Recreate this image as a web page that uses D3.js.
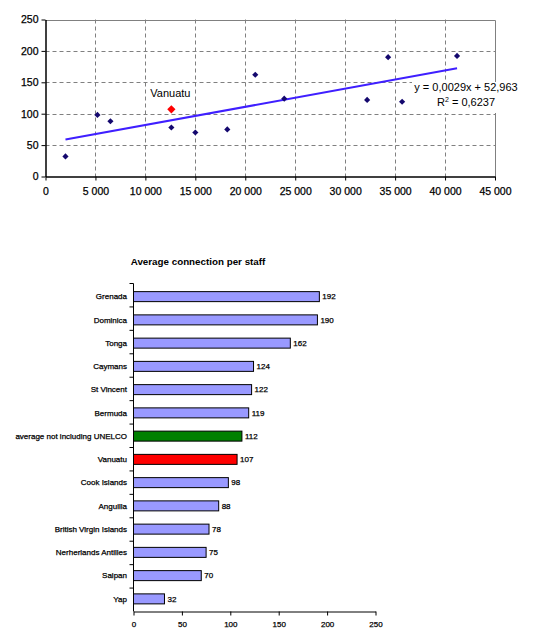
<!DOCTYPE html>
<html>
<head>
<meta charset="utf-8">
<script src="https://cdn.jsdelivr.net/npm/d3@7"></script>
<style>
  body { margin: 0; background: #fff; }
  svg { font-family: "Liberation Sans", Arial, sans-serif; }
  .heavy { stroke: #000; stroke-width: 0.25px; }
</style>
</head>
<body>
<div id="chart"></div>
<script>
// bar chart data (top to bottom)
var barNames = ["Grenada", "Dominica", "Tonga", "Caymans", "St Vincent", "Bermuda",
  "average not including UNELCO", "Vanuatu", "Cook Islands", "Anguilla",
  "British Virgin Islands", "Nerherlands Antilles", "Saipan", "Yap"];
var barValues = [192, 190, 162, 124, 122, 119, 112, 107, 98, 88, 78, 75, 70, 32];

// scatter data
var scatterNames = ["Yap", "Cook Islands", "Anguilla", "Vanuatu", "British Virgin Islands",
  "Saipan", "Nerherlands Antilles", "Tonga", "Caymans", "St Vincent", "Dominica",
  "Bermuda", "Grenada"];
var scatterX = [2000, 5200, 6500, 12600, 12600, 15000, 18200, 21000, 23900, 32200, 34300, 35700, 41200];
var scatterY = [32, 98, 88, 107, 78, 70, 75, 162, 124, 122, 190, 119, 192];

var xTicks = [0, 5000, 10000, 15000, 20000, 25000, 30000, 35000, 40000, 45000];
var yTicks = [0, 50, 100, 150, 200, 250];
var barTicks = [0, 50, 100, 150, 200, 250];

var trendSlope = 0.0029, trendIntercept = 52.963;

var width = 536, height = 636;
var svg = d3.select("#chart").append("svg")
    .attr("width", width)
    .attr("height", height);

// ---------- scatter ----------
var x = d3.scaleLinear().domain([0, 45000]).range([45.5, 495]);
var y = d3.scaleLinear().domain([0, 250]).range([176.5, 19.5]);
var fmt = function(d) { return d3.format(",")(d).replace(/,/g, " "); };

var grid = svg.append("g")
    .style("stroke", "#808080")
    .style("stroke-width", 1)
    .style("stroke-dasharray", "4,3");

grid.selectAll(".vg").data(xTicks.slice(1, -1)).enter().append("line")
    .attr("x1", d => Math.round(x(d)) + 0.5).attr("x2", d => Math.round(x(d)) + 0.5)
    .attr("y1", y(250)).attr("y2", y(0));
grid.selectAll(".hg").data(yTicks.slice(1, -1)).enter().append("line")
    .attr("x1", x(0)).attr("x2", x(45000))
    .attr("y1", d => Math.round(y(d)) + 0.5).attr("y2", d => Math.round(y(d)) + 0.5);

// top and right border
svg.append("path")
    .attr("d", "M" + x(0) + "," + (Math.round(y(250)) + 0.5) + "H" + (Math.round(x(45000)) + 0.5) + "V" + y(0))
    .style("fill", "none")
    .style("stroke", "#808080");

// trend line
svg.append("line")
    .attr("x1", x(d3.min(scatterX))).attr("y1", y(trendSlope * d3.min(scatterX) + trendIntercept))
    .attr("x2", x(d3.max(scatterX))).attr("y2", y(trendSlope * d3.max(scatterX) + trendIntercept))
    .style("stroke", "#3f1fff")
    .style("stroke-width", 2);

// axes
var xAxis = svg.append("g")
    .attr("transform", "translate(0," + y(0) + ")")
    .call(d3.axisBottom(x).tickValues(xTicks).tickFormat(fmt).tickSize(4).tickSizeOuter(0));
var yAxis = svg.append("g")
    .attr("transform", "translate(" + x(0) + ",0)")
    .call(d3.axisLeft(y).tickValues(yTicks).tickSize(4).tickSizeOuter(0));
[xAxis, yAxis].forEach(function(a) {
  a.select(".domain").style("stroke", "#000").style("stroke-width", 1.5);
  a.selectAll(".tick line").style("stroke", "#000");
  a.selectAll("text").style("font-size", "10.5px").style("fill", "#000")
    .style("font-family", "'Liberation Sans', Arial, sans-serif")
    .attr("class", "heavy");
});
xAxis.selectAll("text").attr("dy", "1.1em");
yAxis.selectAll("text").attr("x", -7);

// points (square turned 45deg = diamond)
var diamond = d3.symbol().type(d3.symbolSquare);
svg.selectAll(".pt").data(scatterX).enter().append("path")
    .attr("transform", (d, i) => "translate(" + x(d) + "," + y(scatterY[i]) + ") rotate(45)")
    .attr("d", (d, i) => diamond.size(scatterNames[i] === "Vanuatu" ? 34 : 19)())
    .style("fill", (d, i) => scatterNames[i] === "Vanuatu" ? "#ff0000" : "#14086e");

var vi = scatterNames.indexOf("Vanuatu");
svg.append("text")
    .text("Vanuatu")
    .attr("x", x(scatterX[vi]) - 1)
    .attr("y", y(scatterY[vi]) - 12)
    .attr("text-anchor", "middle")
    .style("font-size", "11px");

// equation label
var eq = svg.append("g").attr("transform", "translate(466,0)");
eq.append("rect")
    .attr("x", -54).attr("y", 82).attr("width", 110).attr("height", 31)
    .style("fill", "#fff");
eq.append("text")
    .text("y = 0,0029x + 52,963")
    .attr("y", 91)
    .attr("text-anchor", "middle")
    .style("font-size", "11px");
var r2 = eq.append("text")
    .attr("y", 106)
    .attr("text-anchor", "middle")
    .style("font-size", "11px");
r2.append("tspan").text("R");
r2.append("tspan").text("2").attr("dy", -4).style("font-size", "7px");
r2.append("tspan").text(" = 0,6237").attr("dy", 4);

// ---------- bar chart ----------
var bx = d3.scaleLinear().domain([0, 250]).range([133.5, 375.5]);
var by = d3.scaleBand().domain(barNames).range([283.5, 609]).paddingInner(0.57).paddingOuter(0.285);

svg.append("text")
    .text("Average connection per staff")
    .attr("x", 198)
    .attr("y", 265)
    .attr("text-anchor", "middle")
    .style("font-size", "9.8px")
    .style("font-weight", "bold");

var barColor = function(name) {
  if (name === "Vanuatu") return "#ff0000";
  if (name === "average not including UNELCO") return "#008000";
  return "#9999ff";
};

svg.selectAll(".bar").data(barValues).enter().append("rect")
    .attr("x", bx(0))
    .attr("y", (d, i) => by(barNames[i]) + 1.5)
    .attr("width", d => bx(d) - bx(0))
    .attr("height", by.bandwidth())
    .style("fill", (d, i) => barColor(barNames[i]))
    .style("stroke", "#000")
    .style("stroke-width", 1);

svg.selectAll(".val").data(barValues).enter().append("text")
    .attr("class", "heavy")
    .text(d => d)
    .attr("x", d => bx(d) + 3)
    .attr("y", (d, i) => by(barNames[i]) + by.bandwidth() / 2 + 1.5)
    .attr("dy", "0.35em")
    .style("font-size", "8px");

// category labels and ticks between bands
var tickStep = (611.5 - 283.5) / barNames.length;
var bandEdges = d3.range(barNames.length).map(i => 283.5 + i * tickStep);
svg.selectAll(".ytk").data(bandEdges).enter().append("line")
    .attr("x1", bx(0) - 4).attr("x2", bx(0))
    .attr("y1", d => d).attr("y2", d => d)
    .style("stroke", "#000");

svg.selectAll(".cat").data(barNames).enter().append("text")
    .attr("class", "heavy")
    .text(d => d)
    .attr("x", 127)
    .attr("y", d => by(d) + by.bandwidth() / 2 + 1.5)
    .attr("dy", "0.35em")
    .attr("text-anchor", "end")
    .style("font-size", "8px");

var bAxis = svg.append("g")
    .attr("transform", "translate(0,611.5)")
    .call(d3.axisBottom(bx).tickValues(barTicks).tickSize(4).tickSizeOuter(0));
bAxis.select(".domain").style("stroke", "#000");
bAxis.selectAll(".tick line").style("stroke", "#000");
bAxis.selectAll("text").style("font-size", "8px").style("fill", "#000")
    .style("font-family", "'Liberation Sans', Arial, sans-serif")
    .attr("class", "heavy")
    .attr("dy", "1em");

svg.append("line")
    .attr("x1", bx(0)).attr("x2", bx(0))
    .attr("y1", 283.5).attr("y2", 611.5)
    .style("stroke", "#000");
</script>
</body>
</html>
